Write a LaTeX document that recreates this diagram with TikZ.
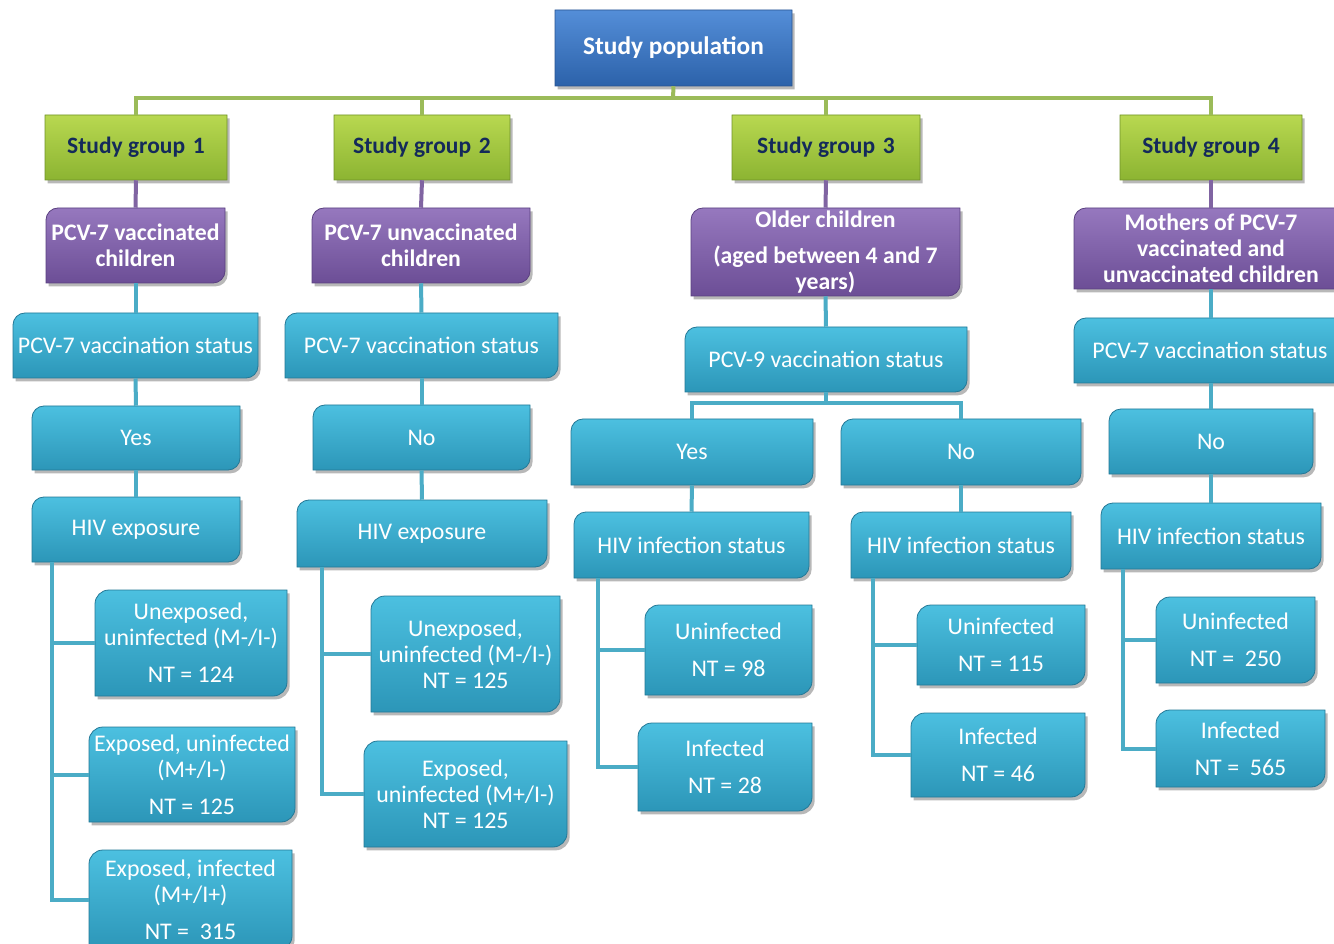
\documentclass[tikz,border=0pt]{standalone}
\usepackage{fontspec}
\setmainfont{Carlito}
\definecolor{popTop}{RGB}{84,142,216}
\definecolor{popBot}{RGB}{44,98,170}
\definecolor{popEdge}{RGB}{40,84,145}
\definecolor{grTop}{RGB}{184,216,80}
\definecolor{grBot}{RGB}{140,180,50}
\definecolor{grEdge}{RGB}{112,146,40}
\definecolor{puTop}{RGB}{150,120,190}
\definecolor{puBot}{RGB}{108,78,150}
\definecolor{puEdge}{RGB}{90,64,128}
\definecolor{cyTop}{RGB}{76,192,224}
\definecolor{cyBot}{RGB}{44,150,184}
\definecolor{cyEdge}{RGB}{36,120,150}
\definecolor{lnGreen}{RGB}{155,187,89}
\definecolor{lnPurple}{RGB}{128,100,162}
\definecolor{lnCyan}{RGB}{75,172,198}
\definecolor{navy}{RGB}{20,42,90}
\tikzset{
  boxshadow/.style={fill=black, opacity=0.28, xshift=2pt, yshift=-2.5pt},
  popfill/.style={top color=popTop, bottom color=popBot, draw=popEdge, line width=0.6pt},
  grfill/.style={top color=grTop, bottom color=grBot, draw=grEdge, line width=0.6pt},
  pufill/.style={top color=puTop, bottom color=puBot, draw=puEdge, line width=0.6pt},
  cyfill/.style={top color=cyTop, bottom color=cyBot, draw=cyEdge, line width=0.6pt},
  basetext/.style={inner sep=0pt, align=center},
  poptext/.style={basetext, text=white, font=\fontsize{19}{21}\selectfont\bfseries},
  grtext/.style={basetext, text=navy, font=\fontsize{17.6}{20}\selectfont\bfseries},
  putext/.style={basetext, text=white, font=\fontsize{17.8}{19.5}\selectfont\bfseries},
  cytext/.style={basetext, text=white, font=\fontsize{17.9}{19.5}\selectfont},
  gline/.style={draw=lnGreen, line width=3pt},
  pline/.style={draw=lnPurple, line width=3pt},
  cline/.style={draw=lnCyan, line width=3pt},
}
% #1 name, #2 fill style, #3 text style, #4 corner radius, #5 x1, #6 y1, #7 x2, #8 y2, #9 text
\newcommand\bx[9]{%
  \path[boxshadow] ({#5},{-#8}) -- ({#5},{-#6-#4}) arc[start angle=180,end angle=90,radius=#4] -- ({#7},{-#6}) -- ({#7},{-#8+#4}) arc[start angle=0,end angle=-90,radius=#4] -- cycle;
  \path[#2] ({#5},{-#8}) -- ({#5},{-#6-#4}) arc[start angle=180,end angle=90,radius=#4] -- ({#7},{-#6}) -- ({#7},{-#8+#4}) arc[start angle=0,end angle=-90,radius=#4] -- cycle;
  \node[#3, minimum width={(#7-#5)*0.75pt}, minimum height={(#8-#6)*0.75pt}] (#1) at ({(#5+#7)/2},{-(#6+#8)/2}) {#9};
}
\begin{document}
\begin{tikzpicture}[x=0.75pt,y=0.75pt]
\useasboundingbox (0,0) rectangle (1334,-944);
\fill[white] (0,0) rectangle (1334,-944);
\clip (0,0) rectangle (1334,-944);

\coordinate (gmid) at (673,-98);
\coordinate (b3) at (826,-403);
\coordinate (v1) at (52,-562);
\coordinate (v2) at (322,-567);
\coordinate (v3) at (598,-578);
\coordinate (v3b) at (873,-578);
\coordinate (v4) at (1123,-569);

% boxes
\bx{pop}{popfill}{poptext}{0.01}{555}{10}{792}{86}{Study population}

\bx{sg1}{grfill}{grtext}{0.01}{45}{115}{227}{180}{Study group\,\,1}
\bx{sg2}{grfill}{grtext}{0.01}{334}{115}{510}{180}{Study group\,\,2}
\bx{sg3}{grfill}{grtext}{0.01}{732}{115}{920}{180}{Study group\,\,3}
\bx{sg4}{grfill}{grtext}{0.01}{1120}{115}{1302}{180}{Study group\,\,4}

\bx{p1}{pufill}{putext}{12}{46}{208}{225}{283}{PCV-7 vaccinated\\children}
\bx{p2}{pufill}{putext}{12}{312}{208}{530}{283}{PCV-7 unvaccinated\\children}
\bx{p3}{pufill}{putext}{12}{691}{208}{960}{296}{Older children\\[8pt](aged between 4 and 7\\years)}
\bx{p4}{pufill}{putext}{12}{1074}{208}{1348}{289}{Mothers of PCV-7\\vaccinated and\\unvaccinated children}

\bx{s1}{cyfill}{cytext}{12}{13}{313}{258}{378}{PCV-7 vaccination status}
\bx{s2}{cyfill}{cytext}{12}{285}{313}{558}{378}{PCV-7 vaccination status}
\bx{s3}{cyfill}{cytext}{12}{685}{327}{967}{392}{PCV-9 vaccination status}
\bx{s4}{cyfill}{cytext}{12}{1074}{318}{1346}{383}{PCV-7 vaccination status}

\bx{y1}{cyfill}{cytext}{12}{32}{406}{240}{470}{Yes}
\bx{n2}{cyfill}{cytext}{12}{313}{405}{530}{470}{No}
\bx{y3}{cyfill}{cytext}{12}{571}{419}{813}{485}{Yes}
\bx{n3}{cyfill}{cytext}{12}{841}{419}{1081}{485}{No}
\bx{n4}{cyfill}{cytext}{12}{1109}{409}{1313}{474}{No}

\bx{h1}{cyfill}{cytext}{12}{32}{497}{240}{562}{HIV exposure}
\bx{h2}{cyfill}{cytext}{12}{297}{500}{547}{567}{HIV exposure}
\bx{h3}{cyfill}{cytext}{12}{574}{512}{809}{578}{HIV infection status}
\bx{h3b}{cyfill}{cytext}{12}{851}{512}{1071}{578}{HIV infection status}
\bx{h4}{cyfill}{cytext}{12}{1101}{503}{1321}{569}{HIV infection status}

\bx{l1a}{cyfill}{cytext}{14}{95}{590}{287}{696}{Unexposed,\\uninfected (M-/I-)\\[8pt]NT = 124}
\bx{l1b}{cyfill}{cytext}{14}{89}{727}{295}{822}{Exposed, uninfected\\(M+/I-)\\[8pt]NT = 125}
\bx{l1c}{cyfill}{cytext}{14}{89}{850}{292}{950}{Exposed, infected\\(M+/I+)\\[8pt]NT = \ 315}
\bx{l2a}{cyfill}{cytext}{14}{371}{596}{560}{712}{Unexposed,\\uninfected (M-/I-)\\NT = 125}
\bx{l2b}{cyfill}{cytext}{14}{364}{741}{567}{847}{Exposed,\\uninfected (M+/I-)\\NT = 125}
\bx{l3a}{cyfill}{cytext}{14}{645}{605}{812}{695}{Uninfected\\[8pt]NT = 98}
\bx{l3b}{cyfill}{cytext}{14}{638}{723}{812}{811}{Infected\\[8pt]NT = 28}
\bx{l3c}{cyfill}{cytext}{14}{917}{605}{1085}{685}{Uninfected\\[8pt]NT = 115}
\bx{l3d}{cyfill}{cytext}{14}{911}{713}{1085}{797}{Infected\\[8pt]NT = 46}
\bx{l4a}{cyfill}{cytext}{14}{1156}{597}{1315}{683}{Uninfected\\[8pt]NT = \ 250}
\bx{l4b}{cyfill}{cytext}{14}{1156}{710}{1325}{787}{Infected\\[8pt]NT = \ 565}

% connectors
\draw[gline] (pop.south) -- (gmid);
\foreach \g in {sg1,sg2,sg3,sg4} \draw[gline] (\g.north) |- (gmid);
\draw[pline] (sg1.south) -- (p1.north);
\draw[pline] (sg2.south) -- (p2.north);
\draw[pline] (sg3.south) -- (p3.north);
\draw[pline] (sg4.south) -- (p4.north -| sg4.south);
\draw[cline] (p1.south) -- (s1.north);
\draw[cline] (p2.south) -- (s2.north);
\draw[cline] (p3.south) -- (s3.north);
\draw[cline] (p4.south -| sg4.south) -- (s4.north -| sg4.south);
\draw[cline] (s1.south) -- (y1.north);
\draw[cline] (s2.south) -- (n2.north);
\draw[cline] (s3.south) -- (b3);
\draw[cline] (y3.north) |- (b3);
\draw[cline] (n3.north) |- (b3);
\draw[cline] (s4.south -| sg4.south) -- (n4.north);
\draw[cline] (y1.south) -- (h1.north);
\draw[cline] (n2.south) -- (h2.north);
\draw[cline] (y3.south) -- (h3.north);
\draw[cline] (n3.south) -- (h3b.north);
\draw[cline] (n4.south) -- (h4.north);
\foreach \t in {l1a,l1b,l1c} \draw[cline] (v1) |- (\t.west);
\foreach \t in {l2a,l2b} \draw[cline] (v2) |- (\t.west);
\foreach \t in {l3a,l3b} \draw[cline] (v3) |- (\t.west);
\foreach \t in {l3c,l3d} \draw[cline] (v3b) |- (\t.west);
\foreach \t in {l4a,l4b} \draw[cline] (v4) |- (\t.west);
\end{tikzpicture}
\end{document}
